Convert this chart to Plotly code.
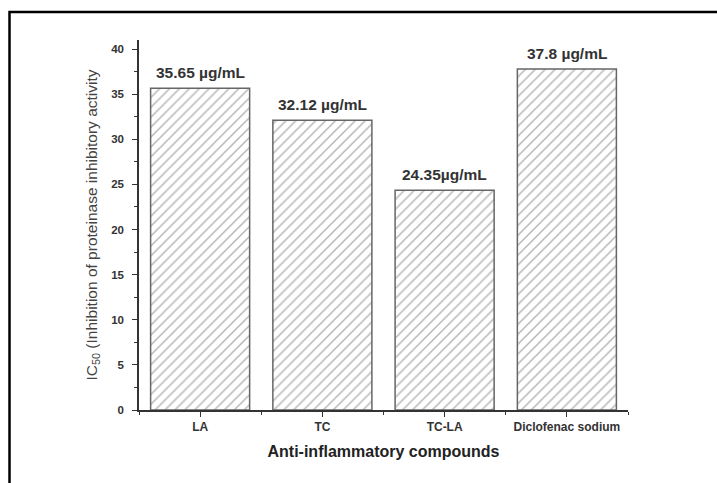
import plotly.graph_objects as go

categories = ["LA", "TC", "TC-LA", "Diclofenac sodium"]
values = [35.65, 32.12, 24.35, 37.8]
bar_labels = ["35.65 µg/mL", "32.12 µg/mL", "24.35µg/mL", "37.8 µg/mL"]
y_ticks = [0, 5, 10, 15, 20, 25, 30, 35, 40]

FONT = "Liberation Sans, Arial, sans-serif"
positions = list(range(len(categories)))

fig = go.Figure()
fig.add_trace(go.Bar(
    x=positions,
    y=values,
    width=0.81,
    marker=dict(
        color="white",
        line=dict(color="#666666", width=1.5),
        pattern=dict(shape="/", fgcolor="#707070", bgcolor="white", size=7, solidity=0.22),
    ),
    showlegend=False,
))

for xp, yv, lab in zip(positions, values, bar_labels):
    fig.add_annotation(x=xp, y=yv, text=lab, showarrow=False, yanchor="bottom",
                       yshift=5, font=dict(family=FONT, size=15.5, color="#333333", weight="bold"))

L, R, T, B = 139, 89, 40, 73
W = 717 - L - R
H = 483 - T - B

fig.update_layout(
    width=717, height=483,
    margin=dict(l=L, r=R, t=T, b=B, pad=0),
    paper_bgcolor="white", plot_bgcolor="white",
    font=dict(family=FONT, color="#333333"),
    xaxis=dict(
        range=[-0.5, 3.5],
        tickvals=positions, ticktext=categories,
        showline=True, linecolor="#333333", linewidth=1.5,
        ticks="outside", ticklen=5, tickwidth=1.2, tickcolor="#333333",
        minor=dict(tickvals=[-0.5, 0.5, 1.5, 2.5, 3.5], ticks="outside", ticklen=3, tickcolor="#333333", tickwidth=1.2),
        showgrid=False, zeroline=False,
        tickfont=dict(family=FONT, size=12, color="#333333", weight="bold"),
        title=dict(text="Anti-inflammatory compounds", standoff=13,
                   font=dict(family=FONT, size=16, color="#222222", weight="bold")),
    ),
    yaxis=dict(
        range=[0, 41],
        tickvals=y_ticks,
        showline=True, linecolor="#333333", linewidth=1.5,
        ticks="outside", ticklen=5, tickwidth=1.2, tickcolor="#333333",
        ticklabelstandoff=6,
        minor=dict(dtick=2.5, ticks="outside", ticklen=3, tickcolor="#333333", tickwidth=1.2),
        showgrid=False, zeroline=False,
        tickfont=dict(family=FONT, size=11.5, color="#333333", weight="bold"),
        title=dict(text="IC<sub>50</sub> (Inhibition of proteinase inhibitory activity", standoff=10,
                   font=dict(family=FONT, size=15.5, color="#444444")),
    ),
)

# outer frame of the figure image (cropped on right and bottom)
fig.add_shape(type="rect", xref="paper", yref="paper",
              x0=(9.5 - L) / W, x1=(725 - L) / W,
              y0=(483 - B - 495) / H, y1=(483 - B - 12) / H,
              line=dict(color="black", width=2.5), fillcolor="rgba(0,0,0,0)", layer="below")

fig.write_html("out.html")
